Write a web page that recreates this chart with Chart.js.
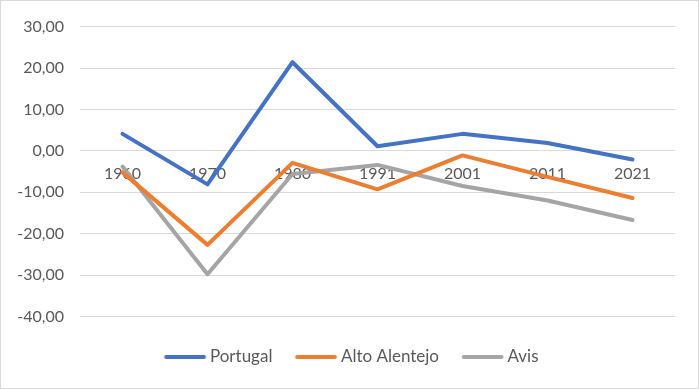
<!DOCTYPE html>
<html>
<head>
<meta charset="utf-8">
<script src="https://cdn.jsdelivr.net/npm/chart.js@4"></script>
<style>
  html, body { margin: 0; padding: 0; background: #fff; }
  #box { width: 697px; height: 387px; border: 1px solid #d9d9d9; }
</style>
</head>
<body>
<div id="box"><canvas id="chart" width="697" height="387"></canvas></div>
<script>
// anos dos censos
const years = ["1960", "1970", "1980", "1991", "2001", "2011", "2021"];

// variacao (%) por territorio
const portugal = [4.1, -8.1, 21.4, 1.1, 4.1, 1.9, -2.1];
const altoAlentejo = [-5.2, -22.7, -2.9, -9.3, -1.1, -6.3, -11.4];
const avis = [-3.8, -29.8, -5.6, -3.4, -8.5, -12.0, -16.7];

const yTicks = [30, 20, 10, 0, -10, -20, -30, -40];

const FONT = "Lato";
const TEXT = "#595959";

// amostra da legenda: linha desenhada num canvas para ficar colada ao texto
const legendLine = (color) => {
    const c = document.createElement("canvas");
    c.width = 80;
    c.height = 10;
    const g = c.getContext("2d");
    g.strokeStyle = color;
    g.lineWidth = 4;
    g.lineCap = "round";
    g.beginPath();
    g.moveTo(18.7, 5);
    g.lineTo(56.5, 5);
    g.stroke();
    return c;
};

const mkSet = (label, data, color) => ({
    label: label,
    data: data,
    borderColor: color,
    backgroundColor: color,
    borderWidth: 4,
    borderCapStyle: "round",
    borderJoinStyle: "round",
    pointRadius: 0,
    pointHoverRadius: 0,
    pointStyle: legendLine(color),
    tension: 0,
    fill: false
});

// empurra a legenda um pouco para a direita, como no Excel
const legendShift = {
    id: "legendShift",
    afterLayout(chart) {
        chart.legend.left += 36;
    }
};

const ctx = document.getElementById("chart").getContext("2d");
new Chart(ctx, {
    type: "line",
    data: {
        labels: years,
        datasets: [
            mkSet("Portugal", portugal, "#4472C4"),
            mkSet("Alto Alentejo", altoAlentejo, "#ED7D31"),
            mkSet("Avis", avis, "#A5A5A5")
        ]
    },
    options: {
        responsive: false,
        animation: false,
        layout: { padding: { top: 18, right: 23, bottom: 12.5, left: 0 } },
        plugins: {
            tooltip: { enabled: false },
            legend: {
                position: "bottom",
                labels: {
                    usePointStyle: true,
                    pointStyleWidth: 28,
                    color: TEXT,
                    font: { family: FONT, size: 17 },
                    padding: 32
                }
            }
        },
        scales: {
            x: {
                position: { y: 0 },
                offset: true,
                grid: { display: false, drawTicks: false },
                border: { display: false },
                ticks: {
                    color: TEXT,
                    font: { family: FONT, size: 16 },
                    padding: 13,
                    maxRotation: 0
                }
            },
            y: {
                min: -40,
                max: 30,
                afterFit: (scale) => { scale.width = 79; },
                afterBuildTicks: (scale) => {
                    scale.ticks = yTicks.map(v => ({ value: v }));
                },
                grid: { color: "#d9d9d9", lineWidth: 1, drawTicks: false },
                border: { display: false },
                ticks: {
                    color: TEXT,
                    font: { family: FONT, size: 16 },
                    padding: 16,
                    callback: (v) => v.toFixed(2).replace(".", ",")
                }
            }
        }
    },
    plugins: [legendShift]
});
</script>
</body>
</html>
